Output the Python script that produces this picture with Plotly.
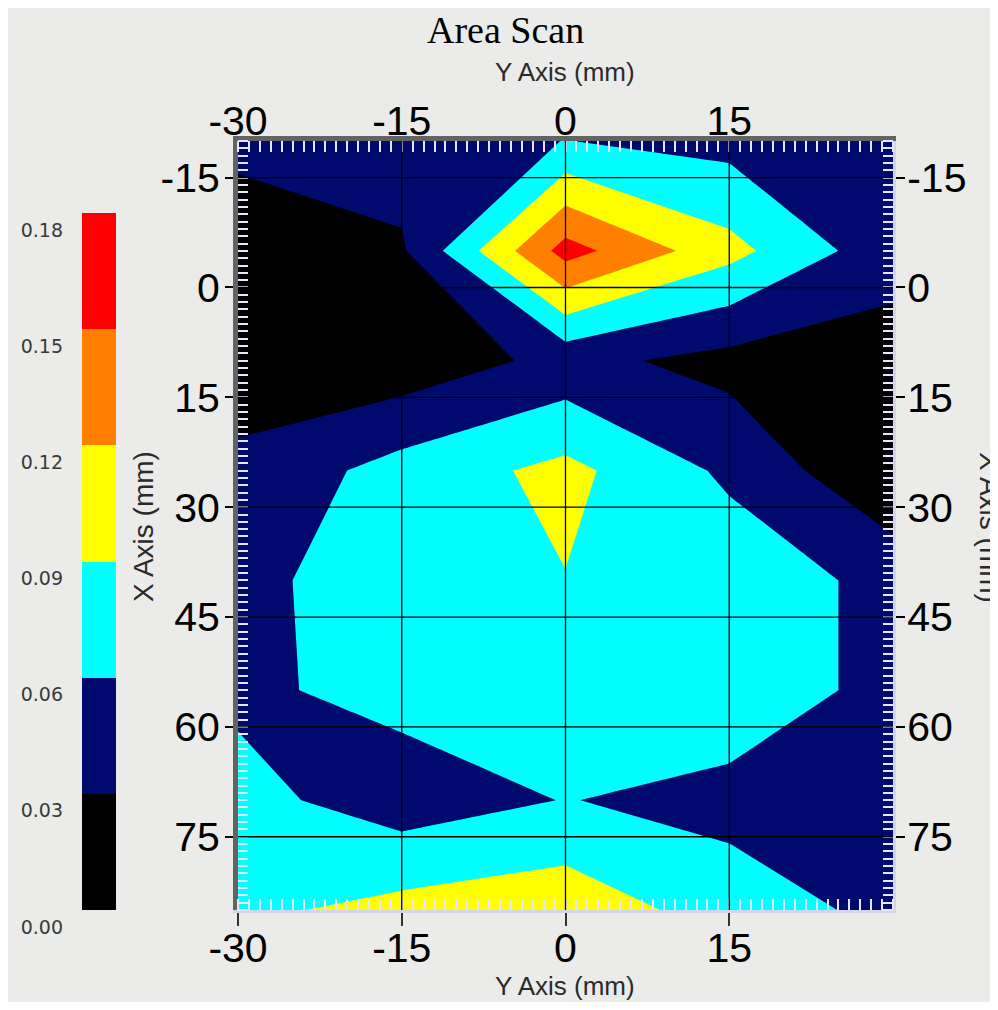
import plotly.graph_objects as go

# ---- data ----
x_pos = [-30, -15, 0, 15, 30]                     # "Y Axis (mm)" scan positions
y_pos = [-20, -5, 10, 25, 40, 55, 70, 85]         # "X Axis (mm)" scan positions
z_row_m20 = [0.036, 0.045, 0.0605, 0.050, 0.040]
z_row_m5 = [0.016, 0.026, 0.162, 0.100, 0.040]
z_row_10 = [0.016, 0.010, 0.039, 0.020, 0.019]
z_row_25 = [0.036, 0.072, 0.0985, 0.054, 0.002]
z_row_40 = [0.050, 0.080, 0.089, 0.080, 0.050]
z_row_55 = [0.054, 0.070, 0.080, 0.080, 0.050]
z_row_70 = [0.070, 0.044, 0.061, 0.050, 0.045]
z_row_85 = [0.083, 0.100, 0.110, 0.0755, 0.052]
z_grid = [z_row_m20, z_row_m5, z_row_10, z_row_25, z_row_40, z_row_55, z_row_70, z_row_85]

levels = [0.00, 0.03, 0.06, 0.09, 0.12, 0.15, 0.18]
level_labels = ["0.00", "0.03", "0.06", "0.09", "0.12", "0.15", "0.18"]
band_colors = ["#000000", "#000a6e", "#00ffff", "#ffff00", "#ff8000", "#ff0000"]

x_ticks = [-30, -15, 0, 15]
x_tick_text = ["-30", "-15", "0", "15"]
y_ticks = [-15, 0, 15, 30, 45, 60, 75]
y_tick_text = ["-15", "0", "15", "30", "45", "60", "75"]

OFF = 8                      # page body margin
W, H = 998 - 2 * OFF, 1010 - 2 * OFF


def px(v):
    return (v - OFF) / W


def py(v):
    return 1 - (v - OFF) / H


zmin, zmax = levels[0], levels[-1]
n = len(band_colors)
cscale = []
for i, c in enumerate(band_colors):
    cscale.append([i / n, c])
    cscale.append([(i + 1) / n, c])

fig = go.Figure()

fig.add_trace(go.Contour(
    x=x_pos, y=y_pos, z=z_grid,
    autocontour=False,
    contours=dict(start=levels[0], end=levels[-1], size=levels[1] - levels[0],
                  coloring="fill", showlines=False),
    line=dict(width=0, smoothing=0),
    colorscale=cscale, zmin=zmin, zmax=zmax, showscale=False,
    xaxis="x", yaxis="y", hoverinfo="skip",
))

# dummy trace for overlay axes
fig.add_trace(go.Scatter(x=[None], y=[None], xaxis="x2", yaxis="y2", showlegend=False))

# colour legend built as a heatmap from the level list
mids = [(levels[i] + levels[i + 1]) / 2 for i in range(n)]
fig.add_trace(go.Heatmap(
    x=[0], y=mids, z=[[m] for m in mids],
    colorscale=cscale, zmin=zmin, zmax=zmax, showscale=False,
    xaxis="x3", yaxis="y3", hoverinfo="skip",
))

xd = [px(238), px(893)]
yd = [py(910), py(141)]
tickfont = dict(family="Liberation Sans, Arial", size=41, color="black")
minor_x = dict(dtick=1, ticks="inside", ticklen=11, tickcolor="#e6e6ff", tickwidth=1.5, showgrid=False)
minor_y = dict(dtick=1, ticks="inside", ticklen=10, tickcolor="#e6e6ff", tickwidth=1.5, showgrid=False)

fig.update_layout(
    width=W, height=H,
    margin=dict(l=0, r=0, t=0, b=0, autoexpand=False),
    paper_bgcolor="#ebebe9", plot_bgcolor="#ebebe9",
    showlegend=False,
    xaxis=dict(domain=xd, range=[-30, 30], anchor="y", side="bottom", automargin=False,
               tickmode="array", tickvals=x_ticks, ticktext=x_tick_text, ticks="outside", ticklen=13,
               tickcolor="#333333", tickwidth=1.5, tickfont=tickfont, showgrid=False,
               zeroline=False, showline=True, linecolor="#d4d4ee", linewidth=3,
               minor=minor_x, ticklabelstandoff=-13),
    xaxis2=dict(range=[-30, 30], overlaying="x", anchor="y", side="top", automargin=False,
                tickmode="array", tickvals=x_ticks, ticktext=x_tick_text, ticks="", tickfont=tickfont,
                showgrid=False, zeroline=False, showline=True, linecolor="#636363",
                linewidth=5, minor=minor_x, ticklabelstandoff=-15),
    yaxis=dict(domain=yd, range=[85, -20], anchor="x", side="left", automargin=False,
               tickmode="array", tickvals=y_ticks, ticktext=y_tick_text, ticks="outside", ticklen=8,
               tickcolor="black", tickwidth=1.5, tickfont=tickfont, showgrid=False,
               zeroline=False, showline=True, linecolor="#636363", linewidth=5,
               minor=minor_y, ticklabelstandoff=-3),
    yaxis2=dict(range=[85, -20], overlaying="y", anchor="x", side="right", automargin=False,
                tickmode="array", tickvals=y_ticks, ticktext=y_tick_text, ticks="outside", ticklen=9,
                tickcolor="black", tickwidth=1.5, tickfont=tickfont, showgrid=False,
                zeroline=False, showline=True, linecolor="#d4d4ee", linewidth=3,
                minor=minor_y, ticklabelstandoff=-6),
    xaxis3=dict(domain=[px(82), px(116)], anchor="y3", visible=False, range=[-0.5, 0.5],
                automargin=False),
    yaxis3=dict(domain=[py(910), py(213)], anchor="x3", side="left", range=[zmin, zmax],
                automargin=False,
                tickmode="array", tickvals=levels, ticktext=level_labels, ticks="",
                tickfont=dict(family="DejaVu Sans", size=19, color="#3a3a3a"),
                showgrid=False, zeroline=False, showline=False,
                ticklabelshift=17, ticklabelstandoff=18),
)

# black grid lines at the major tick values, drawn above the fill
for v in x_ticks[1:]:
    fig.add_shape(type="line", xref="x", yref="y domain", x0=v, x1=v, y0=0, y1=1,
                  line=dict(color="black", width=1.3), layer="above")
for v in y_ticks:
    fig.add_shape(type="line", xref="x domain", yref="y", x0=0, x1=1, y0=v, y1=v,
                  line=dict(color="black", width=1.3), layer="above")

title_font = dict(family="Liberation Sans, Arial", size=26, color="#2a2a2a")
side_font = dict(family="Liberation Sans, Arial", size=28, color="#2a2a2a")
common = dict(xref="paper", yref="paper", showarrow=False, xanchor="center", yanchor="middle")
fig.add_annotation(text="Area Scan", x=px(506), y=py(30), **common,
                   font=dict(family="Liberation Serif, Times New Roman", size=38, color="black"))
fig.add_annotation(text="Y Axis (mm)", x=px(565), y=py(72), font=title_font, **common)
fig.add_annotation(text="Y Axis (mm)", x=px(565), y=py(986), font=title_font, **common)
fig.add_annotation(text="X Axis (mm)", x=px(143), y=py(527), textangle=-90, font=side_font, **common)
fig.add_annotation(text="X Axis (mm)", x=px(990), y=py(527), textangle=90, font=side_font, **common)

fig.write_html("out.html")
